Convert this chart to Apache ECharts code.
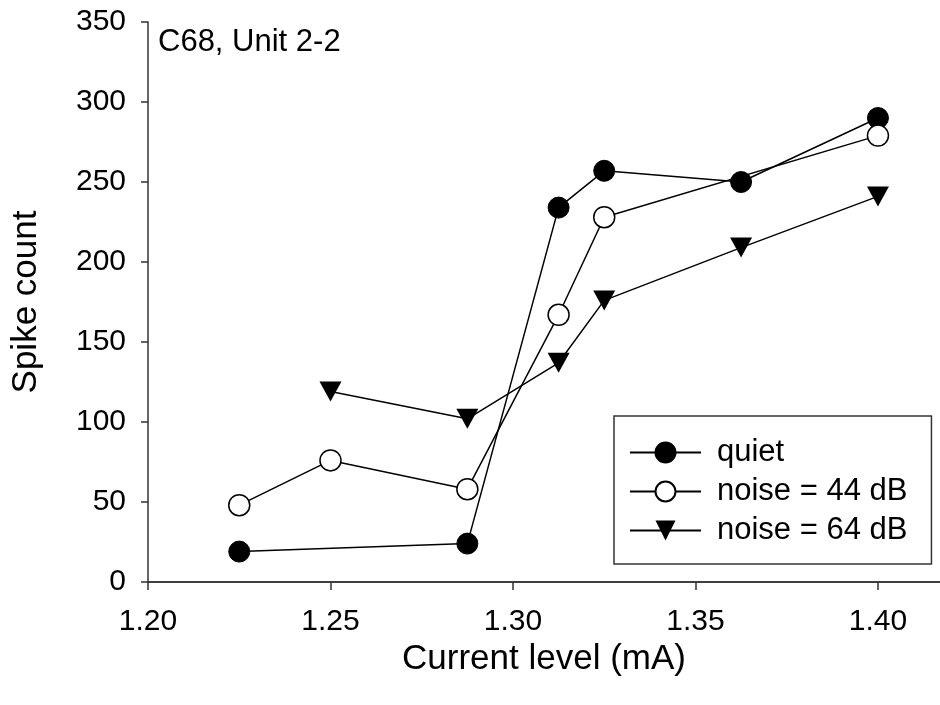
<!DOCTYPE html>
<html>
<head>
<meta charset="utf-8">
<script src="https://cdn.jsdelivr.net/npm/echarts@6/dist/echarts.min.js"></script>
<style>
  html, body { margin: 0; padding: 0; background: #fff; }
  #chart { width: 940px; height: 705px; }
</style>
</head>
<body>
<div id="chart"></div>
<script>
// Spike count vs. stimulation current, three listening conditions
const quietX = [1.225, 1.2875, 1.3125, 1.325, 1.3625, 1.40];
const quietY = [19, 24, 234, 257, 250, 290];

const noise44X = [1.225, 1.25, 1.2875, 1.3125, 1.325, 1.40];
const noise44Y = [48, 76, 58, 167, 228, 279];

const noise64X = [1.25, 1.2875, 1.3125, 1.325, 1.3625, 1.40];
const noise64Y = [119, 102, 137, 176, 209, 241];

const seriesNames = ['quiet', 'noise = 44 dB', 'noise = 64 dB'];
const xTicks = { min: 1.2, max: 1.417, step: 0.05 };
const yTicks = { min: 0, max: 350, step: 50 };
const panelLabel = 'C68, Unit 2-2';

const FONT = '"Liberation Sans", Arial, sans-serif';
const pairs = (xs, ys) => xs.map((x, i) => [x, ys[i]]);
const downTriangle = 'path://M0,0 L22,0 L11,20 Z';

const chart = echarts.init(document.getElementById('chart'), null, { renderer: 'canvas' });

const axisLineStyle = { color: '#333', width: 1.5 };

chart.setOption({
  animation: false,
  backgroundColor: '#fff',
  grid: { left: 148, top: 22, right: -4, bottom: 123, containLabel: false },
  xAxis: [{
    type: 'value',
    min: xTicks.min, max: xTicks.max, interval: xTicks.step,
    name: 'Current level (mA)',
    nameLocation: 'middle',
    nameGap: 55,
    nameTextStyle: { fontFamily: FONT, fontSize: 35, color: '#000' },
    axisLine: { show: true, onZero: false, lineStyle: axisLineStyle },
    axisTick: { show: true, inside: false, length: 8, lineStyle: axisLineStyle },
    axisLabel: {
      margin: 25, fontFamily: FONT, fontSize: 30, color: '#000',
      showMaxLabel: false,
      formatter: v => v.toFixed(2)
    },
    splitLine: { show: false }
  }, {
    // top frame line
    type: 'value', position: 'top',
    min: xTicks.min, max: xTicks.max,
    axisLine: { show: true, lineStyle: axisLineStyle },
    axisTick: { show: false }, axisLabel: { show: false }, splitLine: { show: false }
  }],
  yAxis: {
    type: 'value',
    min: yTicks.min, max: yTicks.max, interval: yTicks.step,
    name: 'Spike count',
    nameLocation: 'middle',
    nameRotate: 90,
    nameGap: 104,
    nameTextStyle: { fontFamily: FONT, fontSize: 35, color: '#000' },
    axisLine: { show: true, onZero: false, lineStyle: axisLineStyle },
    axisTick: { show: true, inside: false, length: 7, lineStyle: axisLineStyle },
    axisLabel: { margin: 22, fontFamily: FONT, fontSize: 30, color: '#000' },
    splitLine: { show: false }
  },
  legend: {
    orient: 'vertical',
    left: 614, top: 416,
    width: 318,
    itemWidth: 71, itemHeight: 25, itemGap: 8,
    padding: [21, 24, 18, 15],
    borderColor: '#333', borderWidth: 1.5,
    backgroundColor: '#fff',
    textStyle: { fontFamily: FONT, fontSize: 31, color: '#000', padding: [0, 0, 0, 11] },
    data: seriesNames
  },
  graphic: [{
    type: 'text',
    left: 158, top: 27,
    style: { text: panelLabel, font: '31px ' + FONT, fill: '#000' }
  }],
  series: [{
    name: seriesNames[0],
    type: 'line',
    data: pairs(quietX, quietY),
    symbol: 'circle', symbolSize: 21,
    lineStyle: { color: '#000', width: 1.5 },
    itemStyle: { color: '#000', borderColor: '#000', borderWidth: 1 },
    z: 2
  }, {
    name: seriesNames[1],
    type: 'line',
    data: pairs(noise44X, noise44Y),
    symbol: 'circle', symbolSize: 21,
    lineStyle: { color: '#000', width: 1.5 },
    itemStyle: { color: '#fff', borderColor: '#000', borderWidth: 1.5 },
    z: 3
  }, {
    name: seriesNames[2],
    type: 'line',
    data: pairs(noise64X, noise64Y),
    symbol: downTriangle, symbolSize: [22, 20],
    lineStyle: { color: '#000', width: 1.5 },
    itemStyle: { color: '#000', borderColor: '#000', borderWidth: 0 },
    z: 4
  }]
});
</script>
</body>
</html>
